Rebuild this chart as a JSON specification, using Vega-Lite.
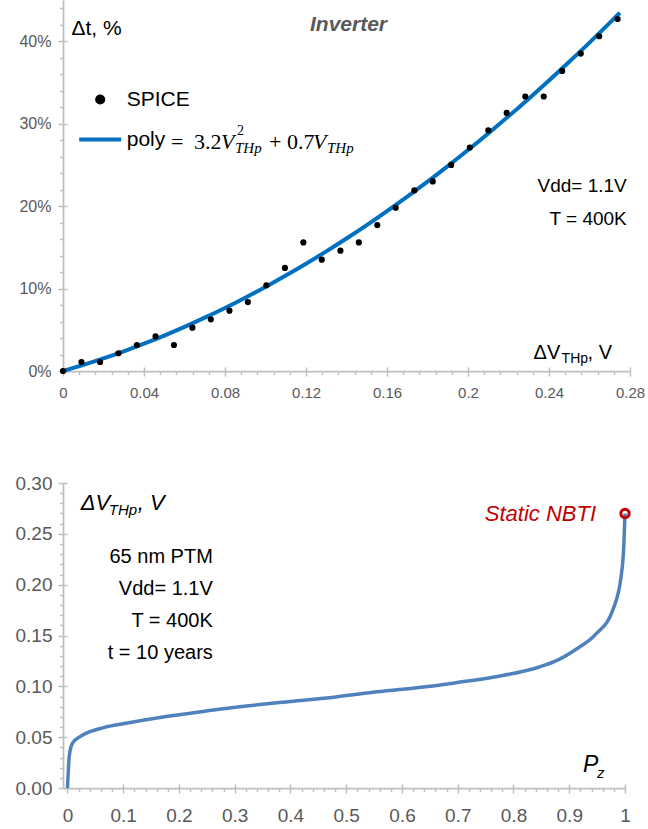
{
  "$schema": "https://vega.github.io/schema/vega-lite/v6.json",
  "padding": {"left": 15, "top": 0, "right": 0, "bottom": 0},
  "config": {
    "font": "Liberation Sans",
    "view": {"stroke": null},
    "axis": {
      "grid": false,
      "domainColor": "#BFBFBF",
      "domainWidth": 1.75,
      "tickColor": "#BFBFBF",
      "tickWidth": 1.5,
      "labelColor": "#595959",
      "labelFont": "Liberation Sans",
      "labelFlush": false,
      "labelOverlap": false,
      "tickCount": 200
    }
  },
  "datasets": {
    "spice": [
      {"dv": 0, "dt": 0, "series": "SPICE"},
      {"dv": 0.0091, "dt": 0.0109, "series": "SPICE"},
      {"dv": 0.0183, "dt": 0.0109, "series": "SPICE"},
      {"dv": 0.0274, "dt": 0.0215, "series": "SPICE"},
      {"dv": 0.0365, "dt": 0.0315, "series": "SPICE"},
      {"dv": 0.0457, "dt": 0.042, "series": "SPICE"},
      {"dv": 0.0548, "dt": 0.0315, "series": "SPICE"},
      {"dv": 0.0639, "dt": 0.0526, "series": "SPICE"},
      {"dv": 0.073, "dt": 0.0627, "series": "SPICE"},
      {"dv": 0.0822, "dt": 0.0732, "series": "SPICE"},
      {"dv": 0.0913, "dt": 0.0836, "series": "SPICE"},
      {"dv": 0.1004, "dt": 0.104, "series": "SPICE"},
      {"dv": 0.1096, "dt": 0.125, "series": "SPICE"},
      {"dv": 0.1187, "dt": 0.156, "series": "SPICE"},
      {"dv": 0.1278, "dt": 0.135, "series": "SPICE"},
      {"dv": 0.137, "dt": 0.146, "series": "SPICE"},
      {"dv": 0.1461, "dt": 0.156, "series": "SPICE"},
      {"dv": 0.1552, "dt": 0.177, "series": "SPICE"},
      {"dv": 0.1643, "dt": 0.198, "series": "SPICE"},
      {"dv": 0.1735, "dt": 0.219, "series": "SPICE"},
      {"dv": 0.1826, "dt": 0.23, "series": "SPICE"},
      {"dv": 0.1917, "dt": 0.25, "series": "SPICE"},
      {"dv": 0.2009, "dt": 0.271, "series": "SPICE"},
      {"dv": 0.21, "dt": 0.292, "series": "SPICE"},
      {"dv": 0.2191, "dt": 0.313, "series": "SPICE"},
      {"dv": 0.2283, "dt": 0.333, "series": "SPICE"},
      {"dv": 0.2374, "dt": 0.333, "series": "SPICE"},
      {"dv": 0.2465, "dt": 0.364, "series": "SPICE"},
      {"dv": 0.2557, "dt": 0.385, "series": "SPICE"},
      {"dv": 0.2648, "dt": 0.406, "series": "SPICE"},
      {"dv": 0.2739, "dt": 0.427, "series": "SPICE"}
    ],
    "poly": [
      {"dv": 0, "dt": 0, "series": "poly"},
      {"dv": 0.01, "dt": 0.00732, "series": "poly"},
      {"dv": 0.02, "dt": 0.01528, "series": "poly"},
      {"dv": 0.03, "dt": 0.02388, "series": "poly"},
      {"dv": 0.04, "dt": 0.03312, "series": "poly"},
      {"dv": 0.05, "dt": 0.043, "series": "poly"},
      {"dv": 0.06, "dt": 0.05352, "series": "poly"},
      {"dv": 0.07, "dt": 0.06468, "series": "poly"},
      {"dv": 0.08, "dt": 0.07648, "series": "poly"},
      {"dv": 0.09, "dt": 0.08892, "series": "poly"},
      {"dv": 0.1, "dt": 0.102, "series": "poly"},
      {"dv": 0.11, "dt": 0.11572, "series": "poly"},
      {"dv": 0.12, "dt": 0.13008, "series": "poly"},
      {"dv": 0.13, "dt": 0.14508, "series": "poly"},
      {"dv": 0.14, "dt": 0.16072, "series": "poly"},
      {"dv": 0.15, "dt": 0.177, "series": "poly"},
      {"dv": 0.16, "dt": 0.19392, "series": "poly"},
      {"dv": 0.17, "dt": 0.21148, "series": "poly"},
      {"dv": 0.18, "dt": 0.22968, "series": "poly"},
      {"dv": 0.19, "dt": 0.24852, "series": "poly"},
      {"dv": 0.2, "dt": 0.268, "series": "poly"},
      {"dv": 0.21, "dt": 0.28812, "series": "poly"},
      {"dv": 0.22, "dt": 0.30888, "series": "poly"},
      {"dv": 0.23, "dt": 0.33028, "series": "poly"},
      {"dv": 0.24, "dt": 0.35232, "series": "poly"},
      {"dv": 0.25, "dt": 0.375, "series": "poly"},
      {"dv": 0.26, "dt": 0.39832, "series": "poly"},
      {"dv": 0.27, "dt": 0.42228, "series": "poly"},
      {"dv": 0.275, "dt": 0.4345, "series": "poly"}
    ],
    "pz": [
      {"pz": 0, "dv": 0},
      {"pz": 0.003, "dv": 0.03},
      {"pz": 0.0045, "dv": 0.0363},
      {"pz": 0.0097, "dv": 0.0446},
      {"pz": 0.021, "dv": 0.05},
      {"pz": 0.039, "dv": 0.0551},
      {"pz": 0.065, "dv": 0.0594},
      {"pz": 0.1025, "dv": 0.0634},
      {"pz": 0.177, "dv": 0.0703},
      {"pz": 0.251, "dv": 0.0759},
      {"pz": 0.325, "dv": 0.0809},
      {"pz": 0.4, "dv": 0.0851},
      {"pz": 0.474, "dv": 0.0891},
      {"pz": 0.548, "dv": 0.0941},
      {"pz": 0.623, "dv": 0.0983},
      {"pz": 0.697, "dv": 0.1036},
      {"pz": 0.771, "dv": 0.1096},
      {"pz": 0.845, "dv": 0.1188},
      {"pz": 0.874, "dv": 0.1245},
      {"pz": 0.911, "dv": 0.136},
      {"pz": 0.949, "dv": 0.152},
      {"pz": 0.978, "dv": 0.175},
      {"pz": 0.993, "dv": 0.208},
      {"pz": 0.998, "dv": 0.24},
      {"pz": 1.0, "dv": 0.27}
    ],
    "nbti": [
      {"pz": 1.0, "dv": 0.27, "label": "Static NBTI"}
    ]
  },
  "vconcat": [
    {
      "width": 567,
      "height": 371,
      "resolve": {"axis": {"x": "independent", "y": "independent"}},
      "layer": [
        {
          "layer": [
            {
              "data": {"name": "poly"},
              "mark": {"type": "line", "strokeWidth": 4, "interpolate": "monotone"},
              "encoding": {
                "x": {
                  "field": "dv", "type": "quantitative",
                  "scale": {"domain": [0, 0.28], "nice": false, "zero": false},
                  "axis": {
                    "title": null,
                    "values": [0, 0.008, 0.016, 0.024, 0.032, 0.04, 0.048, 0.056, 0.064, 0.072, 0.08, 0.088, 0.096, 0.104, 0.112, 0.12, 0.128, 0.136, 0.144, 0.152, 0.16, 0.168, 0.176, 0.184, 0.192, 0.2, 0.208, 0.216, 0.224, 0.232, 0.24, 0.248, 0.256, 0.264, 0.272, 0.28],
                    "labelExpr": "abs(datum.value/0.04 - round(datum.value/0.04)) < 0.01 ? format(datum.value, '~g') : ''",
                    "tickSize": {"condition": {"test": "abs(datum.value/0.04 - round(datum.value/0.04)) < 0.01", "value": 5}, "value": 3.5},
                    "labelFontSize": 15,
                    "labelPadding": 9
                  }
                },
                "y": {
                  "field": "dt", "type": "quantitative",
                  "scale": {"domain": [0, 0.45], "nice": false},
                  "axis": {
                    "title": "Δt, %",
                    "titleAngle": 0,
                    "titleX": 8,
                    "titleY": 28,
                    "titleAlign": "left",
                    "titleBaseline": "middle",
                    "titleFontSize": 21,
                    "titleFontWeight": "normal",
                    "titleColor": "#000000",
                    "titleFont": "Liberation Sans",
                    "values": [0, 0.02, 0.04, 0.06, 0.08, 0.1, 0.12, 0.14, 0.16, 0.18, 0.2, 0.22, 0.24, 0.26, 0.28, 0.3, 0.32, 0.34, 0.36, 0.38, 0.4, 0.42, 0.44],
                    "labelExpr": "abs(datum.value*10 - round(datum.value*10)) < 0.01 ? format(datum.value, '.0%') : ''",
                    "tickSize": {"condition": {"test": "abs(datum.value*10 - round(datum.value*10)) < 0.01", "value": 5}, "value": 3.5},
                    "labelFontSize": 16,
                    "labelPadding": 7
                  }
                },
                "color": {
                  "field": "series", "type": "nominal",
                  "scale": {"domain": ["SPICE", "poly"], "range": ["#000000", "#0070C0"]},
                  "legend": {
                    "title": null,
                    "orient": "none",
                    "legendX": 26.7,
                    "legendY": 89,
                    "padding": 0,
                    "rowPadding": 17,
                    "symbolType": "circle",
                    "symbolSize": 1764,
                    "labelOffset": 16,
                    "labelFontSize": 21,
                    "labelFont": "Liberation Sans",
                    "labelColor": "#000000",
                    "encode": {
                      "symbols": {
                        "update": {
                          "shape": {"signal": "datum.value === 'poly' ? 'stroke' : 'circle'"},
                          "size": {"signal": "datum.value === 'poly' ? 1764 : 38"},
                          "fill": {"signal": "datum.value === 'poly' ? 'transparent' : '#000000'"},
                          "stroke": {"signal": "datum.value === 'poly' ? '#0070C0' : 'transparent'"},
                          "strokeWidth": {"value": 4},
                          "opacity": {"value": 1}
                        }
                      }
                    }
                  }
                }
              }
            },
            {
              "data": {"values": [{}]},
              "mark": {"type": "text", "text": "Inverter", "fontSize": 21, "fontWeight": "bold", "fontStyle": "italic", "color": "#595959", "align": "center", "baseline": "middle"},
              "encoding": {"x": {"datum": 0.141}, "y": {"datum": 0.4202}}
            },
            {
              "data": {"values": [{}]},
              "mark": {"type": "text", "text": ["Vdd= 1.1V", "T = 400K"], "fontSize": 19, "lineHeight": 33, "color": "#000000", "align": "right", "baseline": "middle"},
              "encoding": {"x": {"datum": 0.2784}, "y": {"datum": 0.2239}}
            },
            {
              "data": {"values": [{}]},
              "mark": {"type": "text", "text": "ΔV", "fontSize": 20, "color": "#000000", "align": "left", "baseline": "middle"},
              "encoding": {"x": {"datum": 0.2324}, "y": {"datum": 0.0215}}
            },
            {
              "data": {"values": [{}]},
              "mark": {"type": "text", "text": "THp", "fontSize": 14, "dx": 28, "dy": 6, "color": "#000000", "align": "left", "baseline": "middle"},
              "encoding": {"x": {"datum": 0.2324}, "y": {"datum": 0.0215}}
            },
            {
              "data": {"values": [{}]},
              "mark": {"type": "text", "text": ", V", "fontSize": 20, "dx": 54, "color": "#000000", "align": "left", "baseline": "middle"},
              "encoding": {"x": {"datum": 0.2324}, "y": {"datum": 0.0215}}
            },
            {
              "data": {"values": [{}]},
              "mark": {"type": "text", "text": "=", "font": "Liberation Serif", "fontSize": 22, "dx": 108, "color": "#000000", "align": "left", "baseline": "middle"},
              "encoding": {"x": {"datum": 0}, "y": {"datum": 0.2772}}
            },
            {
              "data": {"values": [{}]},
              "mark": {"type": "text", "text": "3.2", "font": "Liberation Serif", "fontSize": 22, "dx": 131, "color": "#000000", "align": "left", "baseline": "middle"},
              "encoding": {"x": {"datum": 0}, "y": {"datum": 0.2772}}
            },
            {
              "data": {"values": [{}]},
              "mark": {"type": "text", "text": "V", "font": "Liberation Serif", "fontStyle": "italic", "fontSize": 22, "dx": 158, "color": "#000000", "align": "left", "baseline": "middle"},
              "encoding": {"x": {"datum": 0}, "y": {"datum": 0.2772}}
            },
            {
              "data": {"values": [{}]},
              "mark": {"type": "text", "text": "2", "font": "Liberation Serif", "fontSize": 14, "dx": 174, "dy": -11, "color": "#000000", "align": "left", "baseline": "middle"},
              "encoding": {"x": {"datum": 0}, "y": {"datum": 0.2772}}
            },
            {
              "data": {"values": [{}]},
              "mark": {"type": "text", "text": "THp", "font": "Liberation Serif", "fontStyle": "italic", "fontSize": 15, "dx": 172, "dy": 6, "color": "#000000", "align": "left", "baseline": "middle"},
              "encoding": {"x": {"datum": 0}, "y": {"datum": 0.2772}}
            },
            {
              "data": {"values": [{}]},
              "mark": {"type": "text", "text": "+ 0.7", "font": "Liberation Serif", "fontSize": 22, "dx": 206, "color": "#000000", "align": "left", "baseline": "middle"},
              "encoding": {"x": {"datum": 0}, "y": {"datum": 0.2772}}
            },
            {
              "data": {"values": [{}]},
              "mark": {"type": "text", "text": "V", "font": "Liberation Serif", "fontStyle": "italic", "fontSize": 22, "dx": 250, "color": "#000000", "align": "left", "baseline": "middle"},
              "encoding": {"x": {"datum": 0}, "y": {"datum": 0.2772}}
            },
            {
              "data": {"values": [{}]},
              "mark": {"type": "text", "text": "THp", "font": "Liberation Serif", "fontStyle": "italic", "fontSize": 15, "dx": 264, "dy": 6, "color": "#000000", "align": "left", "baseline": "middle"},
              "encoding": {"x": {"datum": 0}, "y": {"datum": 0.2772}}
            }
          ]
        },
        {
          "data": {"name": "spice"},
          "mark": {"type": "point", "filled": true, "size": 38, "opacity": 1},
          "encoding": {
            "x": {
              "field": "dv", "type": "quantitative",
              "axis": {"orient": "bottom", "title": null, "labels": false, "domain": false, "values": [0, 0.04, 0.08, 0.12, 0.16, 0.2, 0.24, 0.28], "tickSize": -4}
            },
            "y": {
              "field": "dt", "type": "quantitative",
              "axis": {"orient": "left", "title": null, "labels": false, "domain": false, "values": [0, 0.1, 0.2, 0.3, 0.4], "tickSize": -4}
            },
            "color": {"field": "series", "type": "nominal"}
          }
        }
      ]
    },
    {
      "width": 562,
      "height": 305,
      "resolve": {"axis": {"x": "independent", "y": "independent"}},
      "layer": [
        {
          "layer": [
            {
              "data": {"name": "pz"},
              "mark": {"type": "line", "color": "#4F81BD", "strokeWidth": 3.5, "interpolate": "monotone"},
              "encoding": {
                "x": {
                  "field": "pz", "type": "quantitative",
                  "scale": {"domain": [-0.008, 1], "nice": false, "zero": false},
                  "axis": {
                    "title": null,
                    "values": [0, 0.02, 0.04, 0.06, 0.08, 0.1, 0.12, 0.14, 0.16, 0.18, 0.2, 0.22, 0.24, 0.26, 0.28, 0.3, 0.32, 0.34, 0.36, 0.38, 0.4, 0.42, 0.44, 0.46, 0.48, 0.5, 0.52, 0.54, 0.56, 0.58, 0.6, 0.62, 0.64, 0.66, 0.68, 0.7, 0.72, 0.74, 0.76, 0.78, 0.8, 0.82, 0.84, 0.86, 0.88, 0.9, 0.92, 0.94, 0.96, 0.98, 1],
                    "labelExpr": "abs(datum.value*10 - round(datum.value*10)) < 0.01 ? format(datum.value, '~g') : ''",
                    "tickSize": {"condition": {"test": "abs(datum.value*10 - round(datum.value*10)) < 0.01", "value": 5}, "value": 3.5},
                    "labelFontSize": 19,
                    "labelPadding": 13
                  }
                },
                "y": {
                  "field": "dv", "type": "quantitative",
                  "scale": {"domain": [0, 0.3], "nice": false},
                  "axis": {
                    "title": null,
                    "values": [0, 0.01, 0.02, 0.03, 0.04, 0.05, 0.06, 0.07, 0.08, 0.09, 0.1, 0.11, 0.12, 0.13, 0.14, 0.15, 0.16, 0.17, 0.18, 0.19, 0.2, 0.21, 0.22, 0.23, 0.24, 0.25, 0.26, 0.27, 0.28, 0.29, 0.3],
                    "labelExpr": "abs(datum.value*20 - round(datum.value*20)) < 0.01 ? format(datum.value, '.2f') : ''",
                    "tickSize": {"condition": {"test": "abs(datum.value*20 - round(datum.value*20)) < 0.01", "value": 5}, "value": 3.5},
                    "labelFontSize": 19,
                    "labelPadding": 6
                  }
                }
              }
            },
            {
              "data": {"name": "nbti"},
              "mark": {"type": "text", "fontSize": 22, "fontStyle": "italic", "color": "#C00000", "align": "right", "baseline": "middle", "dx": -29},
              "encoding": {
                "x": {"field": "pz", "type": "quantitative"},
                "y": {"field": "dv", "type": "quantitative"},
                "text": {"field": "label"}
              }
            },
            {
              "data": {"values": [{}]},
              "mark": {"type": "text", "text": "ΔV", "fontSize": 22, "fontStyle": "italic", "color": "#000000", "align": "left", "baseline": "middle"},
              "encoding": {"x": {"datum": 0.0238}, "y": {"datum": 0.2803}}
            },
            {
              "data": {"values": [{}]},
              "mark": {"type": "text", "text": "THp", "fontSize": 15, "fontStyle": "italic", "dx": 28, "dy": 7, "color": "#000000", "align": "left", "baseline": "middle"},
              "encoding": {"x": {"datum": 0.0238}, "y": {"datum": 0.2803}}
            },
            {
              "data": {"values": [{}]},
              "mark": {"type": "text", "text": ", V", "fontSize": 22, "fontStyle": "italic", "dx": 57, "color": "#000000", "align": "left", "baseline": "middle"},
              "encoding": {"x": {"datum": 0.0238}, "y": {"datum": 0.2803}}
            },
            {
              "data": {"values": [{}]},
              "mark": {"type": "text", "text": ["65 nm PTM", "Vdd= 1.1V", "T = 400K", "t = 10 years"], "fontSize": 20, "lineHeight": 32, "color": "#000000", "align": "right", "baseline": "middle"},
              "encoding": {"x": {"datum": 0.2607}, "y": {"datum": 0.2272}}
            },
            {
              "data": {"values": [{}]},
              "mark": {"type": "text", "text": "P", "fontSize": 23, "fontStyle": "italic", "color": "#000000", "align": "left", "baseline": "middle"},
              "encoding": {"x": {"datum": 0.9247}, "y": {"datum": 0.0226}}
            },
            {
              "data": {"values": [{}]},
              "mark": {"type": "text", "text": "z", "fontSize": 15, "fontStyle": "italic", "dx": 14, "dy": 8, "color": "#000000", "align": "left", "baseline": "middle"},
              "encoding": {"x": {"datum": 0.9247}, "y": {"datum": 0.0226}}
            }
          ]
        },
        {
          "data": {"name": "nbti"},
          "mark": {"type": "point", "filled": false, "stroke": "#C00000", "strokeWidth": 3, "size": 70, "opacity": 1},
          "encoding": {
            "x": {
              "field": "pz", "type": "quantitative",
              "axis": {"orient": "bottom", "title": null, "labels": false, "domain": false, "values": [0, 0.1, 0.2, 0.3, 0.4, 0.5, 0.6, 0.7, 0.8, 0.9, 1], "tickSize": -4}
            },
            "y": {
              "field": "dv", "type": "quantitative",
              "axis": {"orient": "left", "title": null, "labels": false, "domain": false, "values": [0, 0.05, 0.1, 0.15, 0.2, 0.25, 0.3], "tickSize": -4}
            }
          }
        }
      ]
    }
  ],
  "spacing": 74
}
